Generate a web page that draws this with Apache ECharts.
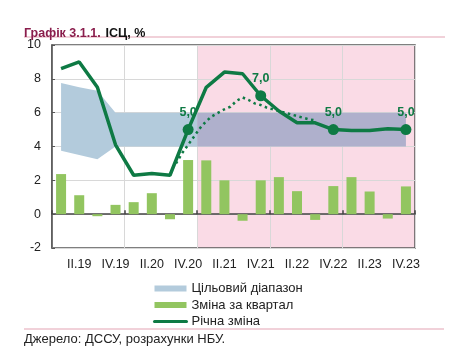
<!DOCTYPE html>
<html>
<head>
<meta charset="utf-8">
<script src="https://cdn.jsdelivr.net/npm/echarts@6/dist/echarts.min.js"></script>
<style>
html,body{margin:0;padding:0;background:#fff;}
#chart{width:451px;height:359px;}
</style>
</head>
<body>
<div id="chart"></div>
<script>
// ---- data ----
const quarters = ['I.19','II.19','III.19','IV.19','I.20','II.20','III.20','IV.20',
  'I.21','II.21','III.21','IV.21','I.22','II.22','III.22','IV.22',
  'I.23','II.23','III.23','IV.23'];
const qoqChange = [2.37,1.12,-0.12,0.55,0.71,1.24,-0.30,3.20,3.18,2.00,-0.39,2.00,2.19,1.36,-0.34,1.66,2.19,1.34,-0.26,1.64];
const annualChange = [8.6,9.0,7.5,4.1,2.3,2.4,2.3,5.0,7.5,8.4,8.3,7.0,6.1,5.4,5.4,5.0,4.95,4.95,5.05,5.0];
const labelledIdx = [7,11,15,19];
const bandLower = [3.75,3.5,3.25,4,4,4,4,4,4,4,4,4,4,4,4,4,4,4,4,4];
const bandUpper = [7.75,7.5,7.3,6,6,6,6,6,6,6,6,6,6,6,6,6,6,6,6,6];
// monthly trajectory (dotted), first month = IX.2020 (month index 20 from I.2019)
const forecastStartMonth = 20;
const forecastMonthly = [3.0,3.6,4.1,4.6,5.1,5.5,5.8,6.0,6.2,6.35,6.7,6.9,6.75,6.55,6.45,6.3,6.2,6.1,6.0,5.9,5.8,5.7,5.6,5.55];
const highlightFromQuarter = 8; // I.21
const yTicks = {min:-2, max:10, step:2};
const legendNames = ['Цільовий діапазон','Зміна за квартал','Річна зміна'];

// ---- build ----
const GREEN = '#0e7a44', BAR = '#92c560', BLUE = '#b3cbdc', PURPLE = '#afb0cc', PINK = '#fadbe6';
const split = highlightFromQuarter;
const midLower = (bandLower[split-1]+bandLower[split])/2;
const midUpper = (bandUpper[split-1]+bandUpper[split])/2;
const leftBand = [], rightBand = [];
for (let i=0;i<split;i++) leftBand.push([i+0.5,bandLower[i],bandUpper[i]]);
leftBand.push([split,midLower,midUpper]);
rightBand.push([split,midLower,midUpper]);
for (let i=split;i<quarters.length;i++) rightBand.push([i+0.5,bandLower[i],bandUpper[i]]);
const forecastData = forecastMonthly.map((v,k)=>[(forecastStartMonth+k+0.5)/3, v]);
const markers = labelledIdx.map(i=>[quarters[i], annualChange[i]]);
const fmt = v => v.toFixed(1).replace('.', ',');

function bandRenderer(pts, color){
  return function(params, api){
    if (params.dataIndex !== 0) return null;
    const top = pts.map(p=>api.coord([p[0],p[2]]));
    const bot = pts.map(p=>api.coord([p[0],p[1]])).reverse();
    return {type:'polygon',shape:{points:top.concat(bot)},style:{fill:color},silent:true};
  };
}

const chart = echarts.init(document.getElementById('chart'), null, {renderer:'canvas'});
const FONT = 'Liberation Sans, Arial, sans-serif';
chart.setOption({
  animation:false,
  textStyle:{fontFamily:FONT},
  grid:{left:52,right:36,top:45,bottom:111,show:true,borderColor:'#555',borderWidth:1.5,backgroundColor:'transparent'},
  title:{
    left:24, top:25, padding:0,
    text:'{a|Графік 3.1.1.} {b|ІСЦ, %}',
    textStyle:{rich:{
      a:{color:'#8a1d4c',fontWeight:'bold',fontSize:12.5,fontFamily:FONT},
      b:{color:'#111',fontWeight:'bold',fontSize:12.5,fontFamily:FONT}
    }}
  },
  graphic:[
    {type:'line',shape:{x1:24,y1:37,x2:445,y2:37},style:{stroke:'#e3a3b3',lineWidth:1}},
    {type:'line',shape:{x1:24,y1:329,x2:444,y2:329},style:{stroke:'#e3a3b3',lineWidth:1}},
    {type:'text',left:24,top:333,style:{text:'Джерело: ДССУ, розрахунки НБУ.',fill:'#222',font:'13px '+FONT}}
  ],
  legend:{
    orient:'vertical', left:153, top:282, padding:0, itemWidth:32, itemHeight:6, itemGap:3.5,
    textStyle:{fontSize:13,color:'#222',fontFamily:FONT},
    data:[{name:legendNames[0],icon:'rect',itemStyle:{color:BLUE}},
          {name:legendNames[1],icon:'rect'},
          {name:legendNames[2],itemStyle:{opacity:0},lineStyle:{width:3,cap:'round'}}]
  },
  xAxis:[
    {type:'category',data:quarters,position:'bottom',boundaryGap:true,
     axisLine:{show:false,onZero:false},axisTick:{show:false},splitLine:{show:false},
     axisLabel:{interval:(i)=>i%2===1,color:'#222',fontSize:12.5,margin:10,fontFamily:FONT}},
    {type:'value',min:0,max:quarters.length,interval:4,show:true,position:'bottom',
     axisLine:{show:false,onZero:false},axisTick:{show:false},axisLabel:{show:false},
     splitLine:{show:true,lineStyle:{color:'#d8d8d8',width:1}}},
    {type:'category',data:quarters,position:'bottom',boundaryGap:true,
     axisLine:{show:true,onZero:true,lineStyle:{color:'#444',width:1.5}},
     axisTick:{show:true,inside:true,interval:3,length:4,lineStyle:{color:'#444',width:1.5}},
     axisLabel:{show:false},splitLine:{show:false}}
  ],
  yAxis:{type:'value',min:yTicks.min,max:yTicks.max,interval:yTicks.step,
    axisLine:{show:true,lineStyle:{color:'#555',width:1.5}},
    axisTick:{show:true,inside:true,length:3,lineStyle:{color:'#555'}},
    axisLabel:{color:'#222',fontSize:12.5,margin:11,fontFamily:FONT},
    splitLine:{show:true,lineStyle:{color:'#d8d8d8',width:1}}},
  series:[
    {type:'line',name:'pink',xAxisIndex:1,data:[],silent:true,
     markArea:{z:-1,silent:true,itemStyle:{color:PINK},data:[[{xAxis:highlightFromQuarter},{xAxis:quarters.length}]]}},
    {type:'custom',name:legendNames[0],xAxisIndex:1,data:leftBand,renderItem:bandRenderer(leftBand,BLUE),
     itemStyle:{color:BLUE},encode:{x:0,y:[1,2]},silent:true,z:1},
    {type:'custom',name:'bandR',xAxisIndex:1,data:rightBand,renderItem:bandRenderer(rightBand,PURPLE),
     itemStyle:{color:PURPLE},encode:{x:0,y:[1,2]},silent:true,z:1},
    {type:'bar',name:legendNames[1],xAxisIndex:0,data:qoqChange,barWidth:10,itemStyle:{color:BAR},z:2},
    {type:'line',name:'forecast',xAxisIndex:1,data:forecastData,symbol:'none',
     lineStyle:{color:GREEN,width:2.5,type:[2.5,3.5]},z:3},
    {type:'line',name:legendNames[2],xAxisIndex:0,data:annualChange,symbol:'none',
     itemStyle:{color:GREEN},lineStyle:{color:GREEN,width:3.5},z:4},
    {type:'scatter',name:'marks',xAxisIndex:0,data:markers,symbol:'circle',symbolSize:11,
     itemStyle:{color:GREEN,opacity:1},z:5,
     label:{show:true,position:'top',distance:5,color:GREEN,fontWeight:'bold',fontSize:12.5,fontFamily:FONT,
       formatter:p=>fmt(p.value[1])}}
  ]
});
</script>
</body>
</html>
